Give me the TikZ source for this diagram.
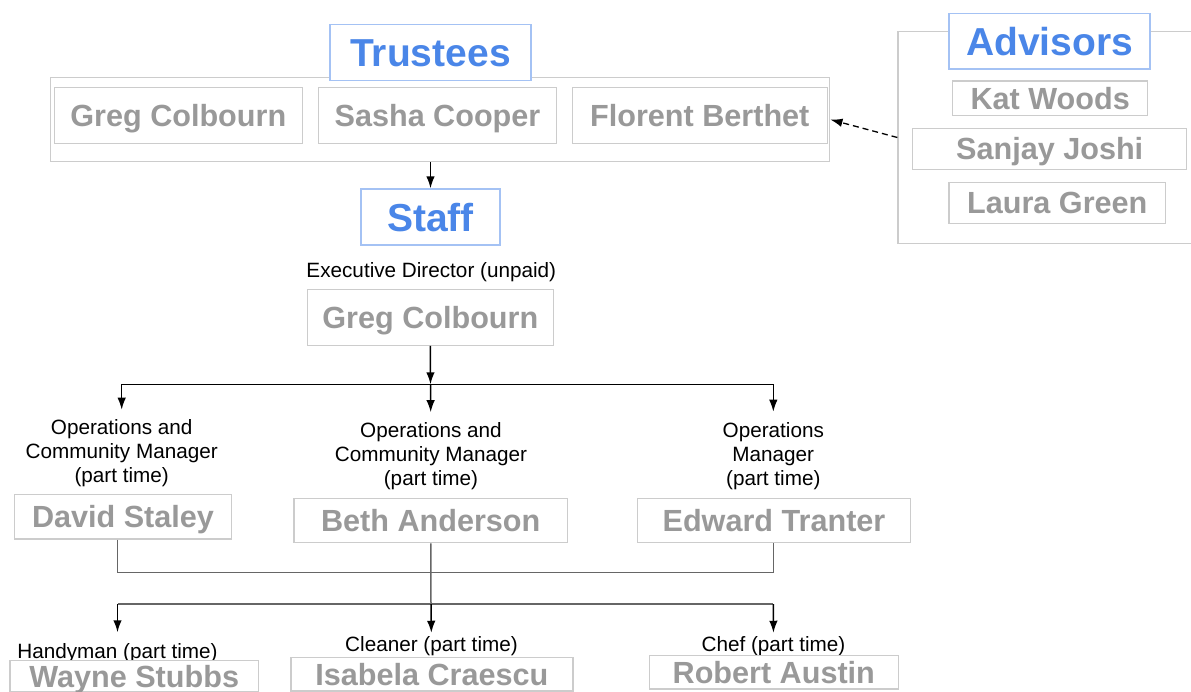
\documentclass[tikz,border=0pt]{standalone}
\usepackage{fontspec}
\setmainfont{Liberation Sans}
\usetikzlibrary{positioning, arrows.meta}

\definecolor{oc-TitleColor}{HTML}{4A86E8}
\definecolor{oc-TitleBorderColor}{HTML}{A4C2F4}
\definecolor{oc-NameColor}{HTML}{999999}
\definecolor{oc-BorderColor}{HTML}{CCCCCC}
\definecolor{oc-LineColor}{HTML}{666666}
\tikzstyle{oc-box-base}=[rectangle,
                         line width=1.3pt,
                         inner sep=0pt,
                         text centered,
                         fill=white,
                        ]
\tikzstyle{oc-title}=[oc-box-base,
                      draw=oc-TitleBorderColor,
                      text=oc-TitleColor,
                      font=\fontsize{39pt}{46pt}\selectfont\bfseries,
                      text height=28pt, text depth=0pt]
\tikzstyle{oc-name}=[oc-box-base,
                     draw=oc-BorderColor,
                     text=oc-NameColor,
                     font=\fontsize{30.6pt}{36pt}\selectfont\bfseries,
                     text height=22pt, text depth=0pt]
\tikzstyle{oc-group}=[rectangle, draw=oc-BorderColor, line width=1.3pt, inner sep=0pt]
\tikzstyle{oc-role}=[inner sep=0pt, align=center, font=\fontsize{20.7pt}{24pt}\selectfont]
\tikzstyle{oc-line}=[oc-LineColor, line width=1.5pt]
\tikzstyle{oc-arrow}=[-{Latex[length=12pt, width=8.5pt]}, line width=1.5pt]

\begin{document}
\begin{tikzpicture}[x=1pt, y=-1pt, line width=1.5pt]
    \useasboundingbox (0,0) rectangle (1191,691);
    \clip (0,0) rectangle (1191,691);

    % Trustees
    % --------------------------------------------------------------------------
    \node at (440.3, 119.6) (trustees_group) [oc-group, minimum width=779pt, minimum height=84pt] {};
    \node at (430.5,  52.3) (trustees_title) [oc-title, minimum width=201pt, minimum height=56pt] {Trustees};

    \node at (178.3, 115.5) (trustee_greg)    [oc-name, minimum width=248pt, minimum height=55.6pt] {Greg Colbourn};
    \node at (437.5, 115.5) (trustee_sasha)   [oc-name, minimum width=238pt, minimum height=55.6pt] {Sasha Cooper};
    \node at (699.8, 115.5) (trustee_florent) [oc-name, minimum width=255pt, minimum height=55.6pt] {Florent Berthet};

    % Advisors
    % --------------------------------------------------------------------------
    \node at (1074, 137.5) (advisors_group) [oc-group, minimum width=352pt, minimum height=211.6pt] {};
    \node at (1049.5, 41.2) (advisors_title) [oc-title, minimum width=201pt, minimum height=55.7pt] {Advisors};

    \node at (1050.2,  98.3) (advisor_kat)    [oc-name, minimum width=195pt, minimum height=34.7pt] {Kat Woods};
    \node at (1049.7, 148.8) (advisor_sanjay) [oc-name, minimum width=274pt, minimum height=41pt] {Sanjay Joshi};
    \node at (1057.3, 202.8) (advisor_laura)  [oc-name, minimum width=216.7pt, minimum height=41pt] {Laura Green};

    % Staff
    % --------------------------------------------------------------------------
    \node at (430.5, 217) (staff_title) [oc-title, minimum width=139pt, minimum height=56pt] {Staff};

    \node at (431.3, 277.1) (director_text) [oc-role, anchor=base] {Executive Director (unpaid)};
    \node at (430.3, 317.3) (director_name) [oc-name, minimum width=246pt, minimum height=56pt] {Greg Colbourn};

    % ------------------------------------------------------------------------
    \node at (121.7, 487.5) (manager1_text) [oc-role, anchor=south] {Operations and\\Community Manager\\(part time)};
    \node at (431.0, 491.0) (manager2_text) [oc-role, anchor=south] {Operations and\\Community Manager\\(part time)};
    \node at (773.3, 490.5) (manager3_text) [oc-role, anchor=south] {Operations\\Manager\\(part time)};

    \node at (123.0, 516.7) (manager1_name) [oc-name, minimum width=217pt, minimum height=44.7pt] {David Staley};
    \node at (430.7, 520.5) (manager2_name) [oc-name, minimum width=273.6pt, minimum height=44.4pt] {Beth Anderson};
    \node at (774.0, 520.3) (manager3_name) [oc-name, minimum width=273.4pt, minimum height=44pt] {Edward Tranter};

    % ------------------------------------------------------------------------
    \node at (117.5, 658.0) (handyman_text) [oc-role, anchor=base] {Handyman (part time)};
    \node at (431.5, 651.5) (cleaner_text)  [oc-role, anchor=base] {Cleaner (part time)};
    \node at (773.5, 651.5) (chef_text)     [oc-role, anchor=base] {Chef (part time)};

    \node at (134.2, 676.0) (handyman_name) [oc-name, minimum width=248.3pt, minimum height=31pt] {Wayne Stubbs};
    \node at (431.9, 674.3) (cleaner_name)  [oc-name, minimum width=282pt, minimum height=33.3pt] {Isabela Craescu};
    \node at (773.8, 672.3) (chef_name)     [oc-name, minimum width=249pt, minimum height=33.3pt] {Robert Austin};

    % Bus lines
    % --------------------------------------------------------------------------
    \coordinate (bus_top_l) at (121.7, 384.3);
    \coordinate (bus_top_m) at (430.5, 384.3);
    \coordinate (bus_top_r) at (773.3, 384.3);
    \draw (bus_top_l) -- (bus_top_r);

    \coordinate (bus_mid_l) at (117.3, 572.3);
    \coordinate (bus_mid_r) at (773.3, 572.3);
    \draw[oc-line] (manager1_name.south -| bus_mid_l) -- (bus_mid_l) -- (bus_mid_r) -- (manager3_name.south -| bus_mid_r);

    \coordinate (bus_low_l) at (117.5, 604);
    \coordinate (bus_low_m) at (431.0, 604);
    \coordinate (bus_low_r) at (773.3, 604);
    \draw[oc-line] (manager2_name) -- (bus_low_m);
    \draw[oc-line] (bus_low_l) -- (bus_low_r);

    % Arrows
    % --------------------------------------------------------------------------
    \draw[oc-arrow] (trustees_group.south -| staff_title) -- (staff_title);
    \draw[oc-arrow, line width=1.3pt, dash pattern=on 6pt off 4pt] (advisors_group.west) -- (trustees_group.east);

    \draw[oc-arrow] (director_name) -- (bus_top_m);
    \draw[oc-arrow, shorten >=9pt]  (bus_top_l) -- (manager1_text);
    \draw[oc-arrow, shorten >=10pt] (bus_top_m) -- (manager2_text);
    \draw[oc-arrow, shorten >=10pt] (bus_top_r) -- (manager3_text);

    \draw[oc-arrow, shorten >=10pt] (bus_low_l) -- (handyman_text);
    \draw[oc-arrow, shorten >=3pt]  (bus_low_m) -- (cleaner_text);
    \draw[oc-arrow, shorten >=3pt]  (bus_low_r) -- (chef_text);

\end{tikzpicture}
\end{document}
